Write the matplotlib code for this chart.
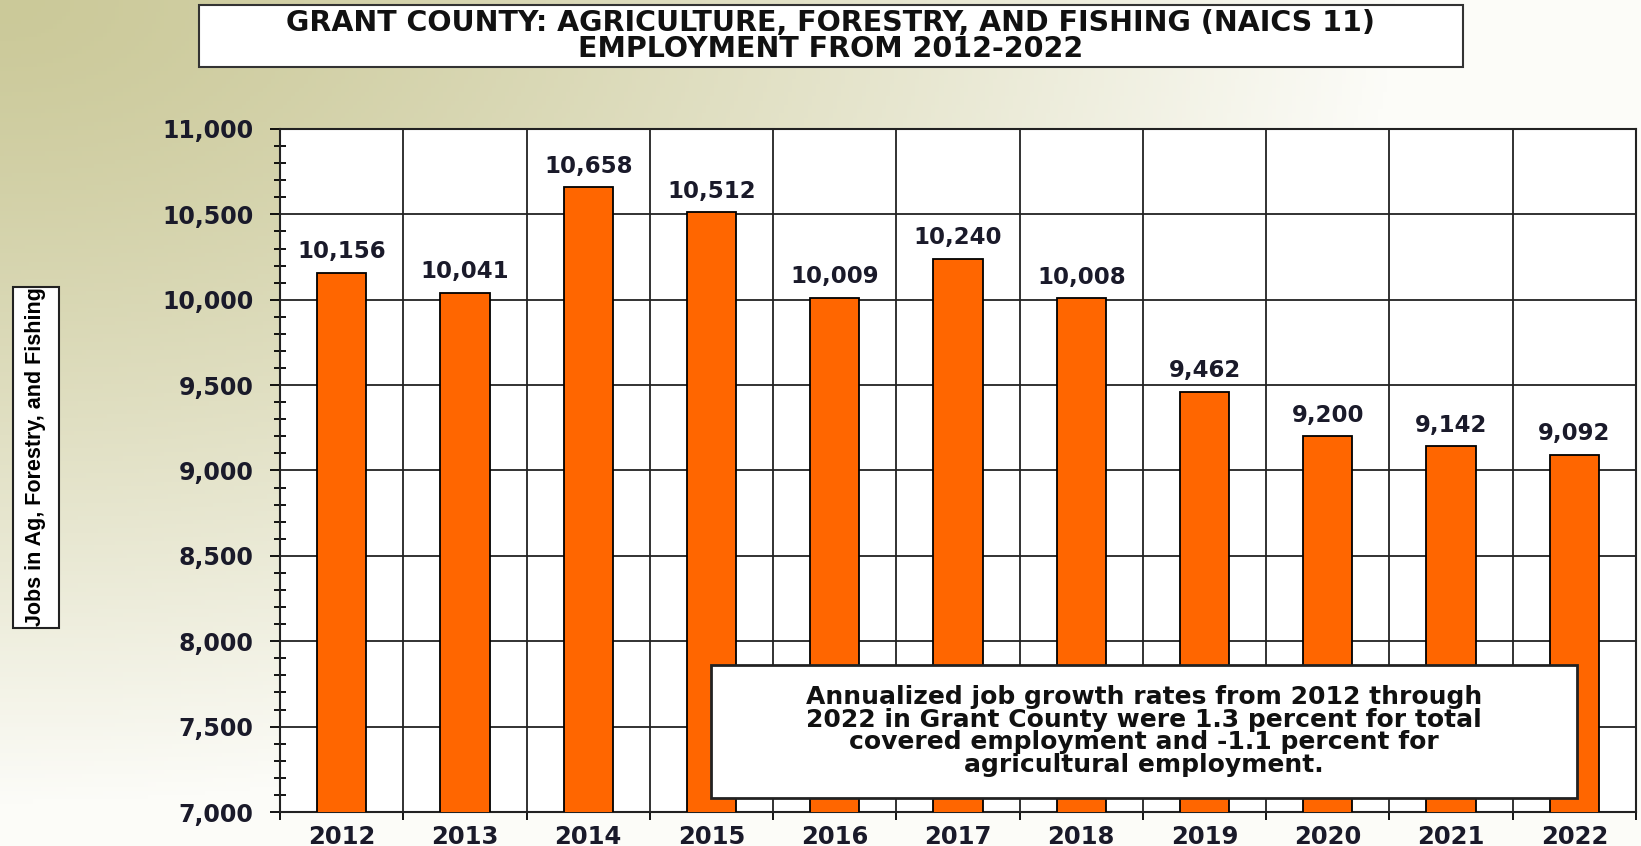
import numpy as np
import matplotlib.pyplot as plt
from matplotlib.patches import Rectangle
from matplotlib.colors import to_rgb

years = ['2012', '2013', '2014', '2015', '2016', '2017', '2018', '2019', '2020', '2021', '2022']
jobs = [10156, 10041, 10658, 10512, 10009, 10240, 10008, 9462, 9200, 9142, 9092]
yticks = [7000, 7500, 8000, 8500, 9000, 9500, 10000, 10500, 11000]

title = "GRANT COUNTY: AGRICULTURE, FORESTRY, AND FISHING (NAICS 11)\nEMPLOYMENT FROM 2012-2022"
ylabel = "Jobs in Ag, Forestry, and Fishing"
note = ("Annualized job growth rates from 2012 through\n"
        "2022 in Grant County were 1.3 percent for total\n"
        "covered employment and -1.1 percent for\n"
        "agricultural employment.")

# the source text is wide, so the wider DejaVu bold is closer than Arial
plt.rcParams['font.family'] = ['DejaVu Sans']
W, H = 1641, 846
fig = plt.figure(figsize=(W / 100, H / 100), dpi=100)

# background gradient, dark khaki at top-left fading to off-white
bg = fig.add_axes([0, 0, 1, 1], zorder=-10)
xx, yy = np.meshgrid(np.linspace(0, 1, 400), np.linspace(0, 1, 200))
t = np.clip(np.sqrt((xx / 0.85) ** 2 + (yy / 0.95) ** 2), 0, 1) ** 1.3
c0 = np.array(to_rgb('#cbc999'))
c1 = np.array(to_rgb('#fcfcf8'))
img = c0[None, None, :] * (1 - t[..., None]) + c1[None, None, :] * t[..., None]
bg.imshow(img, extent=[0, 1, 0, 1], aspect='auto', origin='upper')
bg.axis('off')

def fx(px):
    return px / W

def fy(py):
    return 1 - py / H

txt = '#1a1a2a'
ax = fig.add_axes([fx(280), fy(812), fx(1636) - fx(280), fy(129) - fy(812)])
x = np.arange(len(years))
ax.bar(x, jobs, width=0.4, color='#ff6600', edgecolor='black', linewidth=1.3, zorder=3)
ax.set_xlim(-0.5, len(years) - 0.5)
ax.set_ylim(7000, 11000)

ax.set_yticks(yticks)
ax.set_yticklabels([f"{v:,}" for v in yticks], fontsize=17, fontweight='bold', color=txt)
ax.set_yticks(np.arange(7000, 11001, 100), minor=True)
ax.tick_params(axis='y', which='major', direction='out', length=7, width=1.3, pad=12)
ax.tick_params(axis='y', which='minor', direction='inout', length=8, width=1.3)

ax.set_xticks(x)
ax.set_xticklabels(years, fontsize=17.5, fontweight='bold', color=txt)
ax.set_xticks(np.arange(-0.5, len(years), 1), minor=True)
ax.tick_params(axis='x', which='major', length=0, pad=9)
ax.tick_params(axis='x', which='minor', direction='out', length=6, width=1.3)

ax.grid(axis='y', which='major', color='#222222', linewidth=1.3, zorder=1)
ax.grid(axis='x', which='minor', color='#222222', linewidth=1.3, zorder=1)
ax.set_axisbelow(True)
for s in ax.spines.values():
    s.set_linewidth(1.5)
    s.set_color('#222222')

for xi, v in zip(x, jobs):
    ax.annotate(f"{v:,}", (xi, v), xytext=(0, 7), textcoords='offset points',
                ha='center', va='bottom', fontsize=16.5, fontweight='bold', color=txt)

# title box
fig.add_artist(Rectangle((fx(199), fy(67)), fx(1463) - fx(199), fy(5) - fy(67),
                         transform=fig.transFigure, facecolor='white', edgecolor='#333333', linewidth=1.5))
fig.text(fx(831), fy(36), title, ha='center', va='center', fontsize=20.5, fontweight='bold',
         linespacing=0.9, color='#111111')

# y label box
fig.add_artist(Rectangle((fx(13), fy(628)), fx(59) - fx(13), fy(287) - fy(628),
                         transform=fig.transFigure, facecolor='white', edgecolor='#222222', linewidth=1.5))
fig.text(fx(36), fy(457), ylabel, rotation=90, ha='center', va='center', fontsize=15.5,
         fontweight='bold', family=['Liberation Sans', 'DejaVu Sans'])

# note box
fig.add_artist(Rectangle((fx(711), fy(798)), fx(1577) - fx(711), fy(665) - fy(798),
                         transform=fig.transFigure, facecolor='white', edgecolor='#222222',
                         linewidth=2, zorder=5))
fig.text(fx(1144), fy(731), note, ha='center', va='center', fontsize=18, fontweight='bold',
         linespacing=0.93, zorder=6, color='#111111')

fig.savefig('out.png', dpi=100)
